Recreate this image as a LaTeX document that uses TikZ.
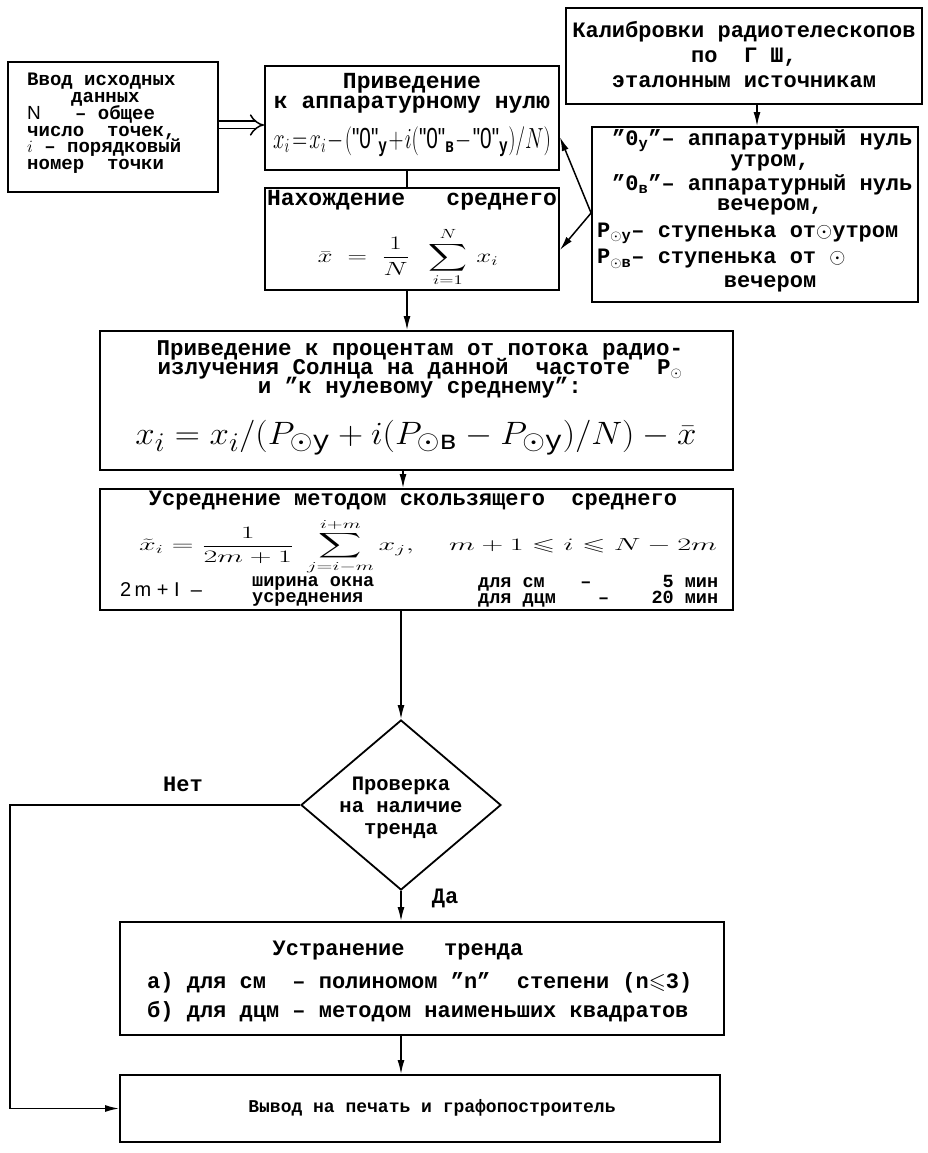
\documentclass[tikz,border=0pt]{standalone}
\usepackage{amsmath,amssymb,graphicx}
\usepackage{fontspec}
\setmainfont{Liberation Mono}
\newfontfamily\fq{Liberation Sans}
\usetikzlibrary{arrows.meta,shapes.geometric}
\newcommand\fsz[2]{\fontsize{#1}{#2}\selectfont\lineskiplimit=-50pt}
\newcommand\qz{\text{\fq\mdseries"0"}}
\begin{document}
\begin{tikzpicture}[x=1pt,y=-1pt,
  box/.style={draw, line width=1.8pt, inner sep=0pt},
  conn/.style={line width=1.5pt, -{Latex[length=14pt,width=7pt]}},
  plain/.style={line width=1.5pt},
  txt/.style={inner sep=0pt, font={\fsz{22}{22}\bfseries}},
  smalltxt/.style={inner sep=0pt, font={\fsz{18.5}{18.5}\bfseries}},
  frm/.style={inner sep=0pt, font={\fsz{20.74}{20.74}\bfseries}},
]
\fill[white] (0,0) rectangle (927,1153);
\useasboundingbox (0,0) rectangle (927,1153);

% boxes
\node[box, minimum width=210pt, minimum height=130pt] (inp) at (113,127) {};
\node[box, minimum width=294pt, minimum height=104pt] (A) at (412,118) {};
\node[box, minimum width=294pt, minimum height=102pt] (B) at (412,239) {};
\node[box, minimum width=356pt, minimum height=96pt] (cal) at (744,56) {};
\node[box, minimum width=326pt, minimum height=175pt] (R) at (755,214.5) {};
\node[box, minimum width=633pt, minimum height=139pt] (C) at (416.5,400.5) {};
\node[box, minimum width=633pt, minimum height=121pt] (D) at (416.5,549.5) {};
\node[draw, line width=1.8pt, shape=diamond, inner sep=0pt, minimum width=200pt, minimum height=170pt] (dia) at (401,805) {};
\node[box, minimum width=604pt, minimum height=113pt] (E) at (422,978.5) {};
\node[box, minimum width=600pt, minimum height=67pt] (F) at (420,1108.5) {};

% input text
\node[txt, align=left, anchor=north west, font={\fsz{19}{16.8}\bfseries}] (inpt) at (27,73)
 {Ввод исходных\\\hspace*{44pt}данных\\{\fq\mdseries N}~~~–~общее\\число~~точек,\\$i$~–~порядковый\\номер~~точки};

% A text
\node[txt, font={\fsz{23}{23}\bfseries}] (a1) at (412,83) {Приведение};
\node[txt, font={\fsz{23}{23}\bfseries}] (a2) at (412,105) {к аппаратурному нулю};
\node[frm] (a3) at (412,142) {\scalebox{1.0}[1.4]{\medmuskip=1mu\thickmuskip=2mu
 $x_{i}=x_{i}-(\qz_{\text{у}}+i(\qz_{\text{в}}-\qz_{\text{у}})/N)$}};

% B text
\node[txt, font={\fsz{23}{23}\bfseries}] (b1) at (412,200) {Нахождение~~~среднего};
\node[frm] (b2) at (408,257) {\scalebox{1.3}[0.92]{$\displaystyle \bar{x}\;=\;\frac{1}{N}\;\;\sum_{i=1}^{N}\,x_{i}$}};

% calibration text
\node[txt] (c1) at (744,32) {Калибровки радиотелескопов};
\node[txt] (c2) at (744,57) {по~~Г Ш,};
\node[txt] (c3) at (744,82) {эталонным источникам};

% right box text
\node[txt, anchor=west] (r1) at (612,141) {"0$_{\text{у}}$"– аппаратурный нуль};
\node[txt] (r2) at (770,163) {утром,};
\node[txt, anchor=west] (r3) at (612,185) {"0$_{\text{в}}$"– аппаратурный нуль};
\node[txt] (r4) at (770,207) {вечером,};
\node[txt, anchor=west] (r5) at (597,233) {P$_{\odot\text{у}}$– ступенька от$\odot$утром};
\node[txt, anchor=west] (r6) at (597,259) {P$_{\odot\text{в}}$– ступенька от $\odot$};
\node[txt] (r7) at (770,284) {вечером};

% C text
\node[txt, font={\fsz{22.5}{22.5}\bfseries}] (ct1) at (420,350) {Приведение к процентам от потока радио-};
\node[txt, font={\fsz{22.5}{22.5}\bfseries}] (ct2) at (420,369) {излучения Солнца на данной~~частоте~~P$_{\odot}$};
\node[txt, font={\fsz{22.5}{22.5}\bfseries}] (ct3) at (420,388) {и "к нулевому среднему":};
\node[frm, font={\fsz{24.88}{24.88}}] (cf) at (416,438)
 {\scalebox{1.4}[1.3]{$x_{i}=x_{i}/(P_{\odot\text{у}}+i(P_{\odot\text{в}}-P_{\odot\text{у}})/N)-\bar{x}$}};

% D text
\node[txt] (d1) at (413,501) {Усреднение методом скользящего~~среднего};
\node[frm] (d2) at (428,547)
 {\scalebox{1.45}[0.84]{$\displaystyle \tilde{x}_{i}=\frac{1}{2m+1}\;\sum_{j=i-m}^{i+m}x_{j},\quad m+1\leqslant i\leqslant N-2m$}};
\node[smalltxt, anchor=west, font={\fsz{20}{20}\fq}] (d3) at (120,590) {2\,m + I~~–};
\node[smalltxt, anchor=west] (d4) at (252,583) {ширина окна};
\node[smalltxt, anchor=west] (d5) at (252,599) {усреднения};
\node[smalltxt, anchor=west] (d6) at (478,583) {\hbox to 240pt{для см\hfil–\hfil\hfil5 мин}};
\node[smalltxt, anchor=west] (d7) at (478,599) {\hbox to 240pt{для дцм\hfil–\hfil20 мин}};

% diamond text
\node[txt, align=center, font={\fsz{20.5}{22}\bfseries}] (dt) at (401,808) {Проверка\\на наличие\\тренда};
\node[txt] (no) at (183,784) {Нет};
\node[txt] (yes) at (445,898) {Да};

% E text
\node[txt] (e1) at (398,951) {Устранение~~~тренда};
\node[txt, anchor=west] (e2) at (147,983) {а) для см~~– полиномом "n"~~степени (n$\leqslant$3)};
\node[txt, anchor=west] (e3) at (147,1012) {б) для дцм – методом наименьших квадратов};

% F text
\node[txt, font={\fsz{18}{18}\bfseries}] (f1) at (432,1108) {Вывод на печать и графопостроитель};

% helper coordinates
\coordinate (y125) at (0,125);
\coordinate (y137) at (0,137);
\coordinate (y213) at (0,213);
\coordinate (y250) at (0,250);
\coordinate (x407) at (407,0);
\coordinate (x403) at (403,0);
\coordinate (x757) at (757,0);
\coordinate (lx) at (10,0);

% connectors
\draw[line width=1.5pt, double distance=6pt, -{Implies}] (inp.east |- y125) -- (A.west |- y125);
\draw[plain] (A.south -| x407) -- (B.north -| x407);
\draw[conn] (cal.south -| x757) -- (R.north -| x757);
\draw[conn] (R.west |- y213) -- (A.east |- y137);
\draw[conn] (R.west |- y213) -- (B.east |- y250);
\draw[conn] (B.south -| x407) -- (C.north -| x407);
\draw[conn] (C.south -| x403) -- (D.north -| x403);
\draw[conn] (D.south -| dia.north) -- (dia.north);
\draw[conn] (dia.south) -- (E.north -| dia.south);
\draw[conn] (E.south -| dia.south) -- (F.north -| dia.south);
\draw[conn] (dia.west) -- (dia.west -| lx) -- (F.west -| lx) -- (F.west);
\end{tikzpicture}
\end{document}
